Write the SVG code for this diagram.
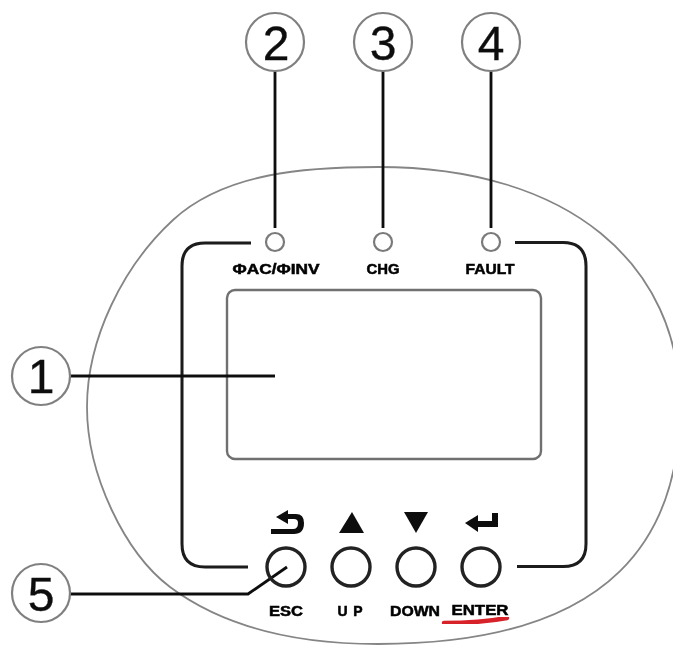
<svg xmlns="http://www.w3.org/2000/svg" width="673" height="645" viewBox="0 0 673 645">
<defs><filter id="soft" x="-5%" y="-5%" width="110%" height="110%"><feGaussianBlur stdDeviation="0.75"/></filter></defs>
<style>
.lead{fill:none;stroke:#111;stroke-width:2.8}
.bub{fill:#fff;stroke:#808080;stroke-width:2.2}
.num{font-family:"Liberation Sans",Arial,sans-serif;font-size:48px;fill:#111;stroke:#111;stroke-width:.35;text-anchor:middle}
.lab{font-family:"Liberation Sans",Arial,sans-serif;font-size:14px;font-weight:bold;fill:#000;stroke:#000;stroke-width:.5;text-anchor:middle}
.led{fill:#fff;stroke:#7a7a7a;stroke-width:2.2}
.btn{fill:none;stroke:#222;stroke-width:3.4}
.ico{fill:#111;stroke:none}
</style>
<rect width="673" height="645" fill="#fff"/>
<g filter="url(#soft)">
<g id="panel">
<path d="M87 407C87 339 123 266 173 220C225 172 308 167 378 167C570 167 680 265 680 405C680 530 620 644 378 644C300 644 225 628 170 587C125 553 87 475 87 407Z" fill="none" stroke="#858585" stroke-width="1.8"/>
<rect id="lcd" x="227" y="290" width="314" height="169" rx="8" fill="none" stroke="#707070" stroke-width="2.4"/>
<path d="M251 243H205Q182 243 182 266V544Q182 567 205 567H248" fill="none" stroke="#1a1a1a" stroke-width="3"/>
<path d="M515 242.500H563Q586 242.500 586 266V544Q586 566.500 563 566.500H517" fill="none" stroke="#1a1a1a" stroke-width="3"/>
</g>
<g id="connectors">
<path class="lead" d="M275 71V228"/>
<path class="lead" d="M383 71V228"/>
<path class="lead" d="M491 71V228"/>
<path class="lead" d="M70 376H275"/>
<path class="lead" d="M70 594H248L287 567"/>
</g>
<g id="callout-1"><circle class="bub" cx="41" cy="376" r="29"/><text class="num" x="41" y="393">1</text></g>
<g id="callout-2"><circle class="bub" cx="275" cy="42" r="29"/><text class="num" x="276" y="60">2</text></g>
<g id="callout-3"><circle class="bub" cx="383" cy="42" r="29"/><text class="num" x="383" y="60">3</text></g>
<g id="callout-4"><circle class="bub" cx="491" cy="42" r="29"/><text class="num" x="491" y="60">4</text></g>
<g id="callout-5"><circle class="bub" cx="41" cy="593" r="29"/><text class="num" x="41" y="611">5</text></g>
<g id="led-acinv"><circle class="led" cx="275" cy="242" r="9"/><text class="lab" x="276" y="274" textLength="87" lengthAdjust="spacingAndGlyphs">ΦAC/ΦINV</text></g>
<g id="led-chg"><circle class="led" cx="383" cy="242" r="9"/><text class="lab" x="383" y="274" textLength="33" lengthAdjust="spacingAndGlyphs">CHG</text></g>
<g id="led-fault"><circle class="led" cx="491" cy="242" r="9"/><text class="lab" x="490" y="274" textLength="49" lengthAdjust="spacingAndGlyphs">FAULT</text></g>
<g id="btn-esc">
<path class="ico" d="M276 517L288 510V514H296Q304 514 304 523Q304 534 294 534H271V529H293Q298 529 298 523Q298 519 294 519H288V524Z"/>
<circle class="btn" cx="286" cy="567" r="19"/><text class="lab" x="286" y="616" textLength="34" lengthAdjust="spacingAndGlyphs">ESC</text></g>
<g id="btn-up">
<path class="ico" d="M352 512L339 533H364Z"/>
<circle class="btn" cx="351" cy="567" r="19"/><text class="lab" x="350" y="616" textLength="25">UP</text></g>
<g id="btn-down">
<path class="ico" d="M404 512H428L416 533Z"/>
<circle class="btn" cx="416" cy="567" r="19"/><text class="lab" x="415" y="616" textLength="50" lengthAdjust="spacingAndGlyphs">DOWN</text></g>
<g id="btn-enter">
<path class="ico" d="M465 523L478 515V521H492V513H498V527H478V532Z"/>
<circle class="btn" cx="481" cy="567" r="19"/><text class="lab" x="480" y="615" textLength="57" lengthAdjust="spacingAndGlyphs">ENTER</text></g>
</g>
<path id="underline" d="M444 623Q480 623 507 618" fill="none" stroke="#d8202a" stroke-width="4.500" stroke-linecap="round" filter="url(#soft)"/>
</svg>
